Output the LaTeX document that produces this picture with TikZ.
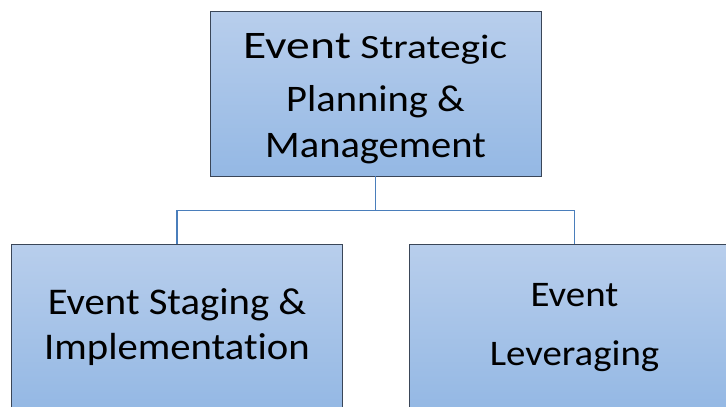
\documentclass[tikz,border=0pt]{standalone}
\usepackage{fontspec}
\setmainfont[FakeStretch=1.08, Ligatures=NoCommon]{Carlito}
\newfontfamily\widefont[FakeStretch=1.22, Ligatures=NoCommon]{Carlito}
\usetikzlibrary{positioning}

\definecolor{boxtop}{RGB}{184,206,236}
\definecolor{boxbottom}{RGB}{148,184,228}
\definecolor{boxline}{RGB}{58,70,88}
\definecolor{linkblue}{RGB}{74,126,187}

\begin{document}
\begin{tikzpicture}[
            x=1pt, y=-1pt,
            node distance=68pt,
            % Styles
            box/.style={
              rectangle, draw=boxline, line width=0.9pt,
              top color=boxtop, bottom color=boxbottom,
              minimum width=331pt, minimum height=165pt,
              align=center, inner sep=0pt
            },
            link/.style={draw=linkblue, line width=1.3pt}
          ]
          \useasboundingbox (0,0) rectangle (726,407);
          \clip (0,0) rectangle (726,407);
          % 1. Top level
          \node[box, font=\fontsize{37.5}{46.7}\selectfont] (plan) at (375.5,93.5) {%
            {\widefont\fontsize{39}{46.7}\selectfont\rule{0pt}{36pt}Event\fontsize{34}{46.7}\selectfont{} Strategic}\\[6pt]
            Planning \&\\
            Management};
          % 2. Second level
          \node[box, below=of plan, xshift=-198.5pt,
                font=\fontsize{37.7}{45}\selectfont] (staging) {%
            Event Staging \&\\
            Implementation};
          \node[box, below=of plan, xshift=199pt,
                font=\fontsize{36}{59}\selectfont] (lever) {%
            Event\\
            Leveraging};
          % --- Connections ---
          \path[link] (plan.south) -- ++(0,34) coordinate (split);
          \foreach \child in {staging, lever} {
            \path[link] (split) -| (\child.north);
          }
        \end{tikzpicture}
\end{document}
